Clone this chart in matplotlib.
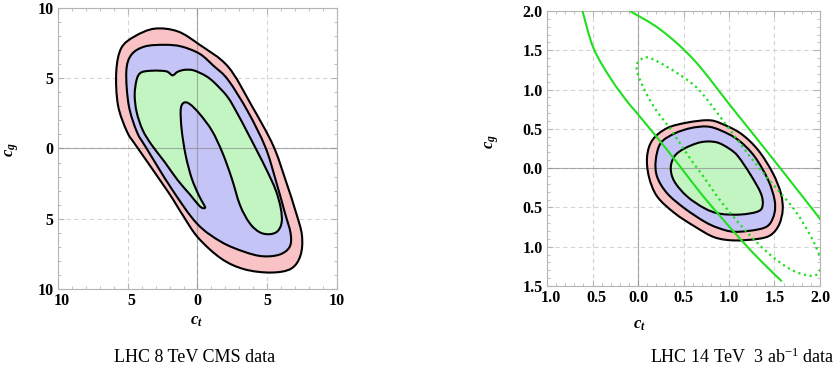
import numpy as np
import matplotlib
matplotlib.use('Agg')
import matplotlib.pyplot as plt
from matplotlib.path import Path
from matplotlib.patches import PathPatch
from matplotlib.ticker import MultipleLocator
from matplotlib.transforms import ScaledTranslation

plt.rcParams['font.family'] = 'Liberation Serif'
plt.rcParams['mathtext.fontset'] = 'custom'
plt.rcParams['mathtext.it'] = 'Liberation Serif:italic:bold'
plt.rcParams['mathtext.rm'] = 'Liberation Serif'

# ---- LHC 8 TeV: contour boundaries in the (c_t, c_g) plane ----
cms_3sig_ct = [-3.07, -1.40, 0.16, 2.19, 3.86, 5.41, 6.30, 7.05, 7.49, 7.39, 6.72, 5.29, 3.38, 1.71,
               0.04, -1.05, -2.11, -4.35, -5.05, -5.70, -5.82, -5.46, -4.50]
cms_3sig_cg = [8.53, 8.33, 7.38, 5.83, 3.10, 0.25, -2.20, -4.51, -6.17, -7.60, -8.55, -8.83, -8.60, -7.84,
               -6.34, -4.75, -3.08, 0.13, 1.20, 3.10, 5.48, 7.15, 7.98]

cms_2sig_ct = [-2.35, -1.15, 0.16, 1.16, 2.19, 3.62, 4.87, 5.61, 6.25, 6.68, 6.61, 5.89, 4.67, 3.38,
               1.71, -0.04, -1.87, -3.70, -4.35, -4.93, -5.10, -4.74, -3.78]
cms_2sig_cg = [7.38, 7.26, 6.74, 5.88, 4.89, 2.62, 0.09, -2.25, -4.51, -6.05, -7.00, -7.55, -7.67, -7.36,
               -6.65, -5.34, -2.84, 0.09, 1.20, 3.10, 5.48, 6.67, 7.26]

cms_1sig_ct = [-4.36, -4.07, -3.43, -2.57, -2.14, -1.78, -1.42, -0.92, -0.27, 0.59, 1.23, 2.16, 2.88,
               3.60, 4.31, 4.96, 5.61, 5.97, 6.04, 5.75, 5.18, 4.46, 3.74, 3.05, 2.45, 1.80, 1.05,
               0.16, -0.56, -0.99, -1.20, -1.13, -0.85, -0.42, 0.09, 0.44, 0.55, 0.37, 0.09, -0.56,
               -1.42, -2.35, -3.28, -3.93, -4.36, -4.50]
cms_1sig_cg = [4.89, 5.39, 5.53, 5.53, 5.46, 5.21, 5.46, 5.60, 5.56, 5.17, 4.67, 3.67, 2.46,
               1.11, -0.25, -1.53, -2.96, -4.24, -5.24, -5.88, -6.10, -5.96, -5.31, -4.03, -2.10, -0.32, 1.25,
               2.46, 3.17, 3.25, 2.75, 1.32, -0.46, -2.10, -3.32, -3.96, -4.21, -4.24, -4.03, -3.25,
               -2.25, -0.96, 0.25, 1.32, 2.60, 3.82]

# ---- LHC 14 TeV, 3 ab^-1 projection ----
hl_3sig_ct = [0.10, 0.16, 0.32, 0.54, 0.77, 0.91, 1.13, 1.32, 1.48, 1.57, 1.59, 1.55, 1.46, 1.32,
              1.06, 0.84, 0.62, 0.40, 0.21, 0.12]
hl_3sig_cg = [0.15, 0.36, 0.51, 0.58, 0.61, 0.57, 0.44, 0.23, -0.06, -0.32, -0.53, -0.72, -0.85, -0.90,
              -0.92, -0.88, -0.74, -0.57, -0.36, -0.11]

hl_2sig_ct = [0.195, 0.25, 0.40, 0.58, 0.76, 0.91, 1.10, 1.28, 1.43, 1.50, 1.50, 1.44, 1.32, 1.06,
              0.88, 0.73, 0.51, 0.32, 0.21]
hl_2sig_cg = [0.10, 0.32, 0.44, 0.51, 0.53, 0.48, 0.36, 0.15, -0.15, -0.40, -0.57, -0.72, -0.78, -0.81,
              -0.76, -0.68, -0.51, -0.32, -0.11]

hl_1sig_ct = [0.36, 0.40, 0.51, 0.69, 0.86, 1.00, 1.10, 1.24, 1.35, 1.37, 1.32, 1.13, 0.90, 0.73, 0.54, 0.40]
hl_1sig_cg = [0.0, 0.15, 0.25, 0.33, 0.33, 0.25, 0.15, -0.09, -0.32, -0.47, -0.55, -0.59, -0.58, -0.51, -0.36, -0.17]

# solid green band edges
band_lo_ct = [-0.61, -0.49, -0.30, -0.12, -0.04, 0.21, 0.43, 0.69, 0.91, 1.13, 1.35, 1.58]
band_lo_cg = [2.00, 1.53, 1.14, 0.85, 0.74, 0.39, 0.07, -0.32, -0.62, -0.91, -1.18, -1.44]
band_hi_ct = [-0.09, 0.25, 0.62, 1.04, 1.55, 2.01]
band_hi_cg = [2.00, 1.76, 1.37, 0.76, 0.02, -0.66]

# dotted green ellipse
dot_ct = [0.085, 0.21, 0.43, 0.65, 0.86, 1.13, 1.32, 1.50, 1.72, 1.90, 2.01, 1.99, 1.90, 1.68,
          1.43, 1.17, 0.91, 0.69, 0.58, 0.36, 0.21, 0.10, 0.0, -0.01]
dot_cg = [1.41, 1.36, 1.21, 1.02, 0.72, 0.30, 0.02, -0.23, -0.53, -0.87, -1.17, -1.32, -1.37, -1.29,
          -1.08, -0.78, -0.42, -0.06, 0.11, 0.49, 0.72, 0.93, 1.19, 1.33]

# tick labels are printed without their minus signs
left_xticks = [-10, -5, 0, 5, 10]
left_xlabels = ['10', '5', '0', '5', '10']
left_yticks = [-10, -5, 0, 5, 10]
left_ylabels = ['10', '5', '0', '5', '10']
right_xticks = [-1.0, -0.5, 0.0, 0.5, 1.0, 1.5, 2.0]
right_xlabels = ['1.0', '0.5', '0.0', '0.5', '1.0', '1.5', '2.0']
right_yticks = [-1.5, -1.0, -0.5, 0.0, 0.5, 1.0, 1.5, 2.0]
right_ylabels = ['1.5', '1.0', '0.5', '0.0', '0.5', '1.0', '1.5', '2.0']

RED = '#f9c2c4'
BLUE = '#c4c4f7'
GREEN = '#c2f5c2'
LINE_GREEN = '#1fdf1f'


def smooth_path(xs, ys, closed=True):
    # Catmull-Rom through the points, written as cubic Bezier segments
    p = np.column_stack([xs, ys]).astype(float)
    if closed:
        ext = np.vstack([p[-1], p, p[0], p[1]])
    else:
        ext = np.vstack([p[0], p, p[-1]])
    verts = [ext[1]]
    codes = [Path.MOVETO]
    for i in range(1, len(ext) - 2):
        p0, p1, p2, p3 = ext[i - 1], ext[i], ext[i + 1], ext[i + 2]
        verts += [p1 + (p2 - p0) / 6, p2 - (p3 - p1) / 6, p2]
        codes += [Path.CURVE4] * 3
    if closed:
        verts.append(ext[1])
        codes.append(Path.CLOSEPOLY)
    return Path(verts, codes)


def region(ax, xs, ys, color):
    path = smooth_path(xs, ys)
    ax.add_patch(PathPatch(path, facecolor=color, edgecolor='none', zorder=1))
    ax.add_patch(PathPatch(path, facecolor='none', edgecolor='black', lw=1.5, zorder=3))


def style_axes(ax, xticks, xlabels, yticks, ylabels, minor):
    ax.set_xticks(xticks)
    ax.set_xticklabels(xlabels)
    ax.set_yticks(yticks)
    ax.set_yticklabels(ylabels)
    ax.xaxis.set_minor_locator(MultipleLocator(minor))
    ax.yaxis.set_minor_locator(MultipleLocator(minor))
    ax.tick_params(which='both', direction='in', top=True, right=True, color='#b5b5b5',
                   labelsize=11.5, pad=3)
    ax.tick_params(which='major', length=4)
    ax.tick_params(which='minor', length=2.5)
    for lab in ax.get_xticklabels() + ax.get_yticklabels():
        lab.set_fontweight('bold')
    # the missing minus sign still takes its room, so negative x labels sit right of the tick
    shift = ScaledTranslation(4 / 100, 0, ax.figure.dpi_scale_trans)
    for val, lab in zip(xticks, ax.get_xticklabels()):
        if val < 0:
            lab.set_transform(lab.get_transform() + shift)
    for sp in ax.spines.values():
        sp.set_color('#b5b5b5')
        sp.set_linewidth(0.8)
    ax.grid(True, which='major', ls=(0, (4, 3)), color='#d4d4d4', lw=0.8, zorder=0)
    ax.set_axisbelow(True)
    ax.axhline(0, color='#8c8c8c', lw=0.8, alpha=0.7, zorder=2)
    ax.axvline(0, color='#8c8c8c', lw=0.8, alpha=0.7, zorder=2)


fig = plt.figure(figsize=(8.34, 3.81), dpi=100)
ax1 = fig.add_axes([0.0695, 0.2415, 0.3345, 0.7375])
ax2 = fig.add_axes([0.6559, 0.2493, 0.3273, 0.7218])

region(ax1, cms_3sig_ct, cms_3sig_cg, RED)
region(ax1, cms_2sig_ct, cms_2sig_cg, BLUE)
region(ax1, cms_1sig_ct, cms_1sig_cg, GREEN)
ax1.set_xlim(-10, 10)
ax1.set_ylim(-10, 10)
style_axes(ax1, left_xticks, left_xlabels, left_yticks, left_ylabels, 1)

region(ax2, hl_3sig_ct, hl_3sig_cg, RED)
region(ax2, hl_2sig_ct, hl_2sig_cg, BLUE)
region(ax2, hl_1sig_ct, hl_1sig_cg, GREEN)
ax2.add_patch(PathPatch(smooth_path(band_lo_ct, band_lo_cg, closed=False), fill=False,
                        edgecolor=LINE_GREEN, lw=1.5, zorder=4))
ax2.add_patch(PathPatch(smooth_path(band_hi_ct, band_hi_cg, closed=False), fill=False,
                        edgecolor=LINE_GREEN, lw=1.5, zorder=4))
ax2.add_patch(PathPatch(smooth_path(dot_ct, dot_cg), fill=False, edgecolor=LINE_GREEN,
                        lw=1.6, ls=(0, (1, 1.6)), zorder=4))
ax2.set_xlim(-1, 2)
ax2.set_ylim(-1.5, 2)
style_axes(ax2, right_xticks, right_xlabels, right_yticks, right_ylabels, 0.1)

for ax, xl, yl in [(ax1, (0.498, -0.085), (-0.133, 0.495)),
                   (ax2, (0.34, -0.113), (-0.168, 0.527))]:
    ax.set_xlabel(r'$c_t$', fontsize=12)
    ax.set_ylabel(r'$c_g$', fontsize=12)
    ax.xaxis.set_label_coords(*xl)
    ax.yaxis.set_label_coords(*yl)

fig.text(195 / 834, 1 - 357 / 381, 'LHC 8 TeV CMS data', ha='center', va='center', fontsize=13)
fig.text(742 / 834, 1 - 357 / 381, r'LHC 14 TeV  3 ab$^{-1}$ data', ha='center', va='center',
         fontsize=13)

fig.savefig('out.png', dpi=100)
